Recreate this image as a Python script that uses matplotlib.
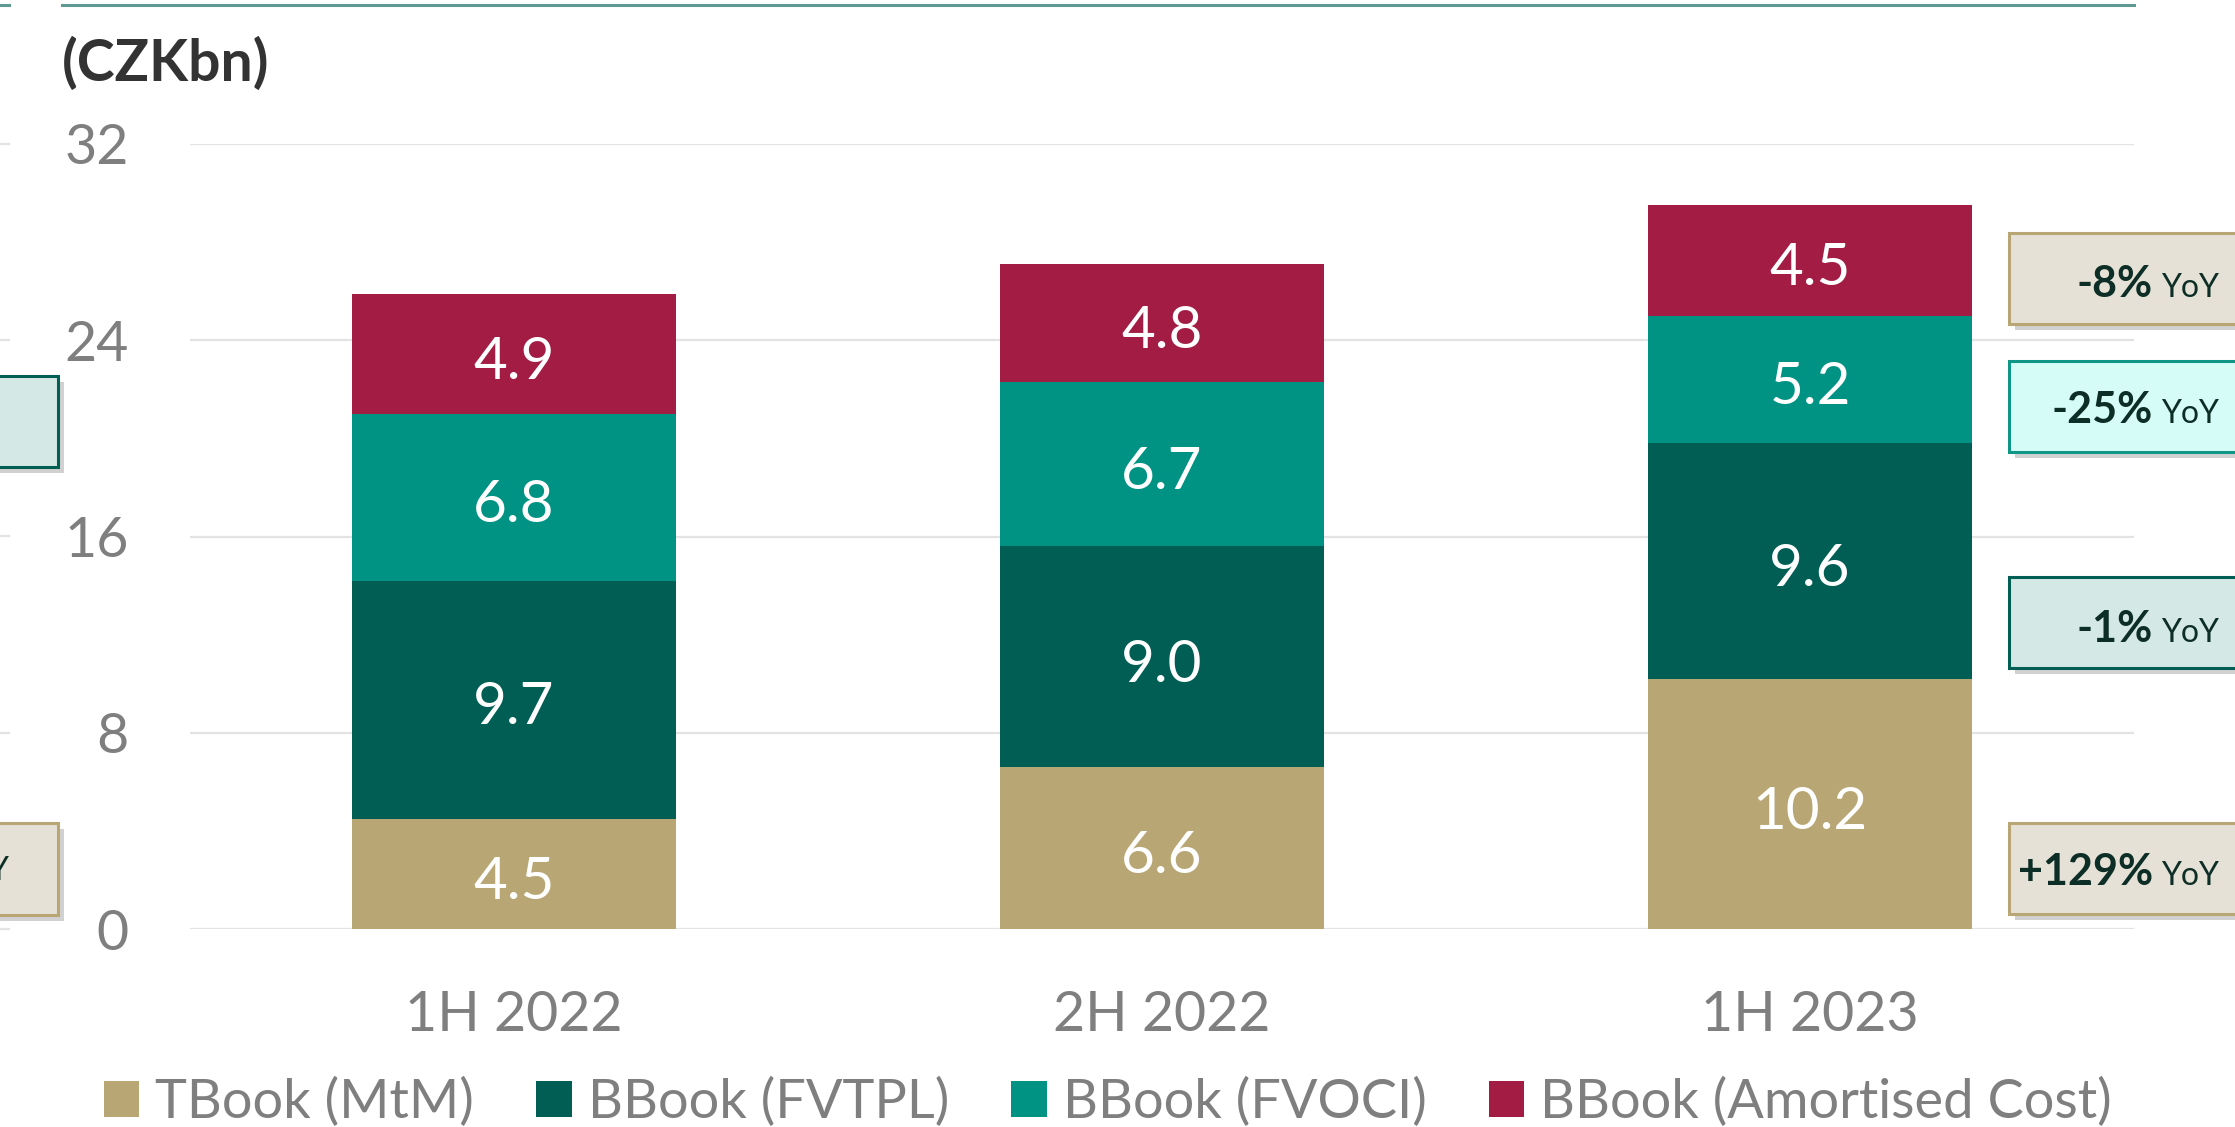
import matplotlib
matplotlib.use("Agg")
import numpy as np
import matplotlib.pyplot as plt
import matplotlib.transforms as mtransforms
from matplotlib.patches import Rectangle
from matplotlib.lines import Line2D

plt.rcParams['font.family'] = ['Lato', 'DejaVu Sans']

periods = ["1H 2022", "2H 2022", "1H 2023"]
series = ["TBook (MtM)", "BBook (FVTPL)", "BBook (FVOCI)", "BBook (Amortised Cost)"]
tbook = [4.5, 6.6, 10.2]
fvtpl = [9.7, 9.0, 9.6]
fvoci = [6.8, 6.7, 5.2]
amort = [4.9, 4.8, 4.5]
yoy = ["-8%", "-25%", "-1%", "+129%"]   # top to bottom: AC, FVOCI, FVTPL, TBook

colors = ["#B8A774", "#005E54", "#009383", "#A21C44"]
W, H = 2235, 1127

fig = plt.figure(figsize=(W / 100, H / 100), dpi=100)

def fx(x):
    return x / W

def fy(y):
    return 1 - y / H

ax = fig.add_axes([fx(190), fy(929), fx(2134) - fx(190), fy(144) - fy(929)])
lab_tr = mtransforms.offset_copy(ax.transData, fig=fig, y=-6, units="points")

x = np.arange(len(periods))
bottom = np.zeros(len(periods))
for vals, col, lab in zip([tbook, fvtpl, fvoci, amort], colors, series):
    bars = ax.bar(x, vals, 0.5, bottom=bottom, color=col, label=lab, zorder=3)
    for b, v, b0 in zip(bars, vals, bottom):
        ax.text(b.get_x() + b.get_width() / 2, b0 + v / 2, f"{v:.1f}",
                ha="center", va="center", color="white", fontsize=42, zorder=4,
                transform=lab_tr)
    bottom += np.array(vals)

ax.set_xlim(-0.5, 2.5)
ax.set_ylim(0, 32)
ax.set_yticks([0, 8, 16, 24, 32])
ax.set_xticks(x)
ax.set_xticklabels(periods)
ax.tick_params(length=0, labelsize=40, labelcolor="#7F7F7F")
ax.tick_params(axis="y", pad=44)
ax.tick_params(axis="x", pad=44)
ax.grid(axis="y", color="#E3E3E3", lw=1.6, zorder=0)
for s in ax.spines.values():
    s.set_visible(False)

# unit label
fig.text(fx(62), fy(64), "(CZKbn)", fontsize=41, fontweight="bold",
         color="#333333", ha="left", va="center")

# top rule and cut-off pieces of the neighbouring chart
fig.add_artist(Line2D([fx(62), fx(2134)], [fy(5), fy(5)], color="#5E9A92", lw=2.2))
fig.add_artist(Line2D([0, fx(9)], [fy(5), fy(5)], color="#5E9A92", lw=2.2))
for gy in [144, 340, 536, 733, 929]:
    fig.add_artist(Line2D([0, fx(9)], [fy(gy), fy(gy)], color="#E3E3E3", lw=1.6))

def box(x0, y0, x1, y1, face, edge):
    sh = Rectangle((fx(x0 + 6), fy(y1 + 6)), fx(x1 - x0), fy(y0) - fy(y1),
                   transform=fig.transFigure, facecolor="#9A9A9A", edgecolor="none",
                   alpha=0.45)
    fig.add_artist(sh)
    r = Rectangle((fx(x0), fy(y1)), fx(x1 - x0), fy(y0) - fy(y1),
                  transform=fig.transFigure, facecolor=face, edgecolor=edge, lw=2.2)
    fig.add_artist(r)

# right-hand YoY boxes
right_boxes = [(233, 324, "#E6E1D6", "#B8A774", 297),
               (361, 452, "#D6FCF8", "#0F9686", 423),
               (577, 668, "#D4E8E5", "#005E54", 642),
               (823, 914, "#E6E1D6", "#B8A774", 885)]
for (y0, y1, face, edge, base), lab in zip(right_boxes, yoy):
    box(2009, y0, 2260, y1, face, edge)
    fig.text(fx(2153), fy(base), lab, fontsize=31, fontweight="bold",
             color="#0D2E26", ha="right", va="baseline")
    fig.text(fx(2161), fy(base), "YoY", fontsize=23, color="#0D2E26",
             ha="left", va="baseline")

# left boxes cut off at the edge
box(-20, 376, 58, 467, "#D4E8E5", "#005E54")
box(-20, 823, 58, 915, "#E6E1D6", "#B8A774")
fig.text(fx(9), fy(880), "YoY", fontsize=23, color="#0D2E26", ha="right", va="baseline")

handles, labels = ax.get_legend_handles_labels()
fig.legend(handles, labels, loc="center", bbox_to_anchor=(fx(1108), fy(1102)),
           ncol=4, frameon=False, fontsize=39, labelcolor="#7F7F7F",
           handlelength=0.65, handleheight=0.65, handletextpad=0.3,
           columnspacing=1.15, borderaxespad=0)

fig.savefig("out.png", dpi=100)
